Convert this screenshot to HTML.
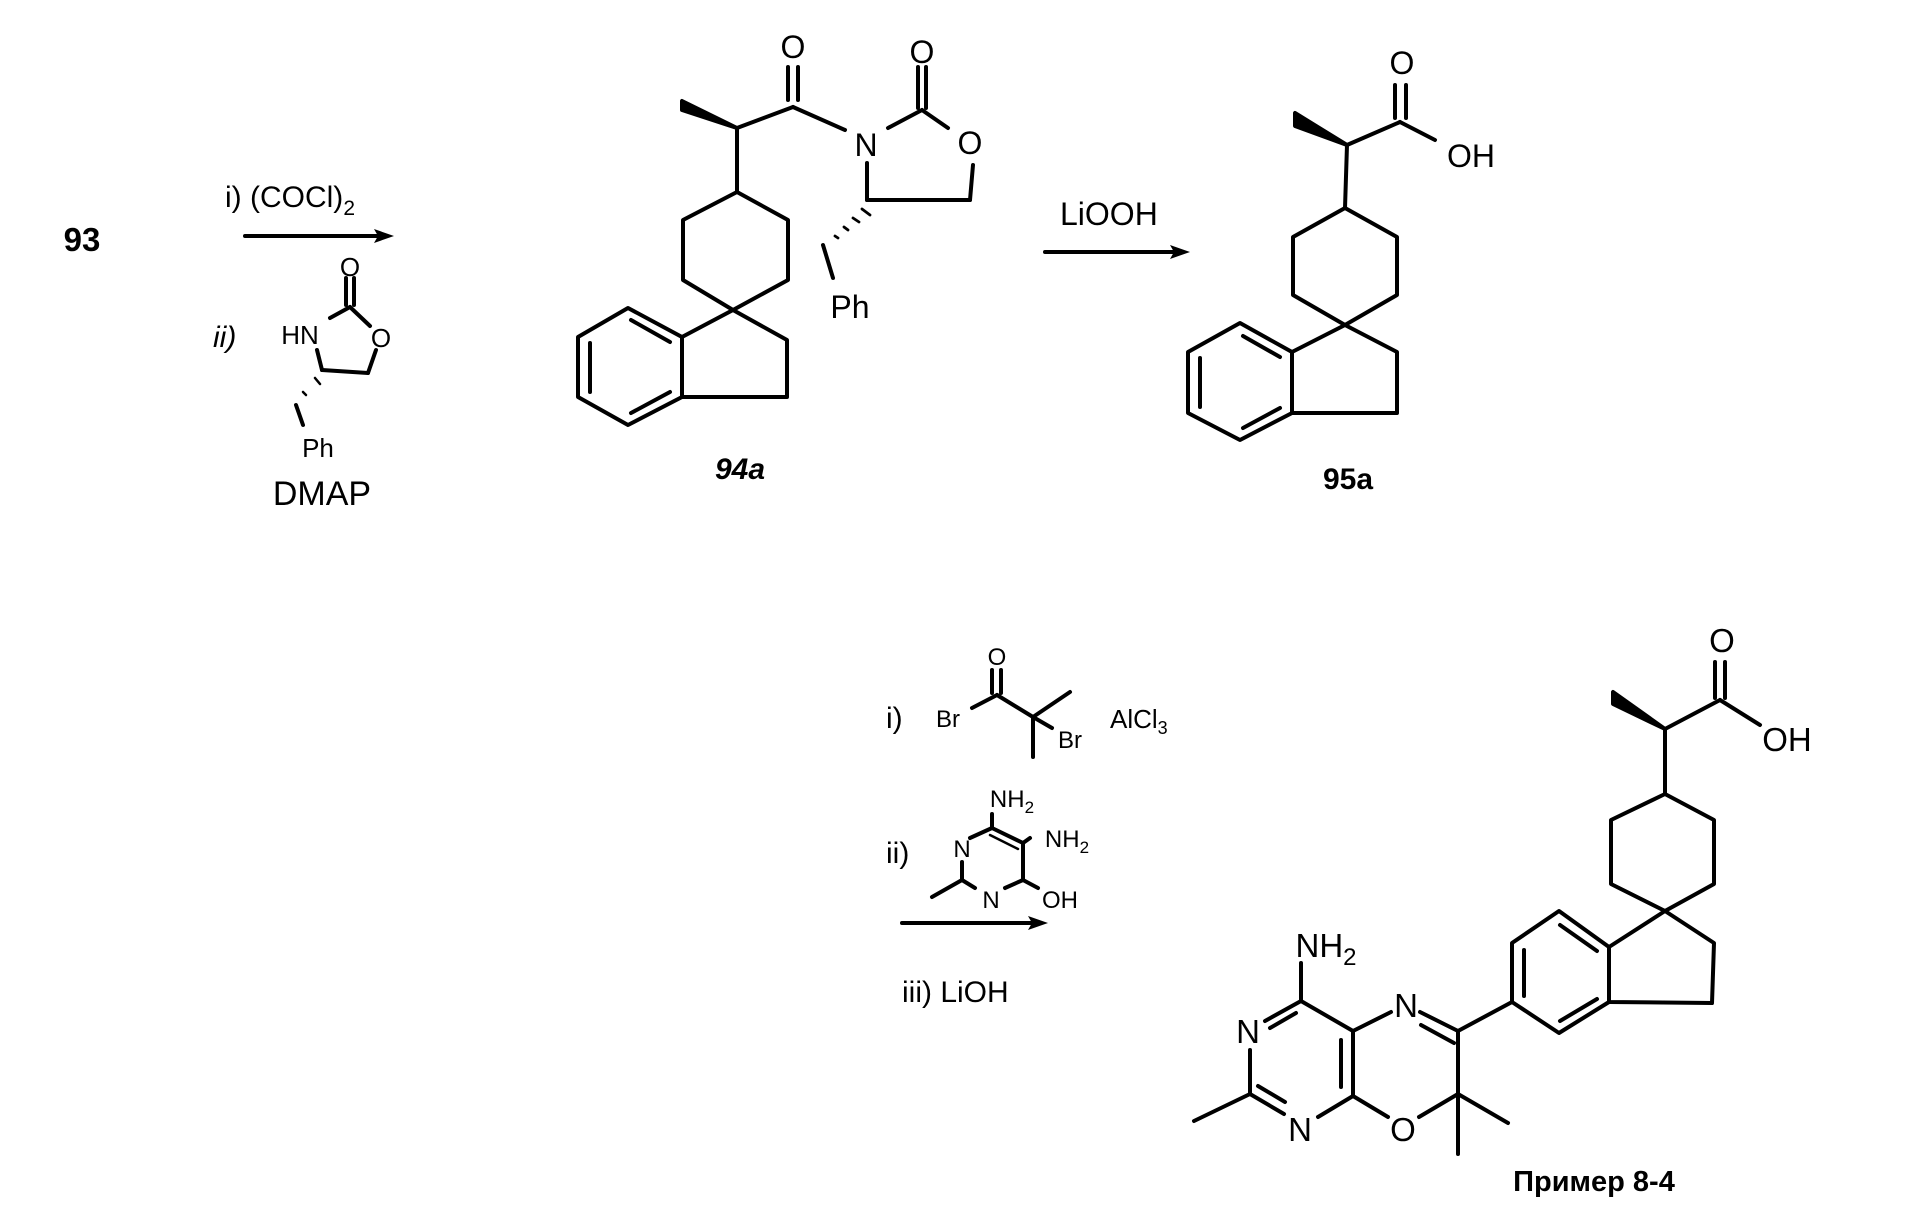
<!DOCTYPE html>
<html><head><meta charset="utf-8"><style>
html,body{margin:0;padding:0;background:#fff}
svg{display:block}
text{font-family:"Liberation Sans","Noto Sans CJK SC",sans-serif;fill:#000}
</style></head><body>
<svg width="1909" height="1212" viewBox="0 0 1909 1212" xmlns="http://www.w3.org/2000/svg">
<g stroke="#000" stroke-width="4" fill="none" stroke-linecap="round" stroke-linejoin="round">
<!-- arrows -->
<line x1="245" y1="236" x2="380" y2="236"/>
<line x1="1045" y1="252" x2="1177" y2="252"/>
<line x1="902" y1="923" x2="1035" y2="923"/>

<!-- oxazolidinone reagent -->
<line x1="317" y1="350" x2="322" y2="370"/>
<line x1="322" y1="370" x2="368" y2="373"/>
<line x1="368" y1="373" x2="376" y2="350"/>
<line x1="370" y1="326" x2="350" y2="307"/>
<line x1="350" y1="307" x2="330" y2="318"/>
<line x1="346" y1="305" x2="346" y2="278"/><line x1="354" y1="305" x2="354" y2="278"/>
<line x1="315" y1="378" x2="320" y2="384" stroke-width="2.5"/>
<line x1="303" y1="392" x2="306" y2="395" stroke-width="2.5"/>
<line x1="296" y1="405" x2="303" y2="425"/>

<!-- 94a -->
<line x1="737" y1="128" x2="793" y2="107"/>
<line x1="788" y1="100" x2="788" y2="67"/><line x1="798" y1="100" x2="798" y2="67"/>
<line x1="793" y1="107" x2="845" y2="130"/>
<line x1="888" y1="128" x2="922" y2="110"/>
<line x1="918" y1="108" x2="918" y2="67"/><line x1="926" y1="108" x2="926" y2="67"/>
<line x1="922" y1="110" x2="948" y2="128"/>
<line x1="973" y1="165" x2="970" y2="200"/>
<line x1="970" y1="200" x2="867" y2="200"/>
<line x1="867" y1="200" x2="867" y2="163"/>
<line x1="737" y1="128" x2="737" y2="192"/>
<polygon points="682,101 682,110 737,128" fill="#000"/>
<polyline points="737,192 788,220 788,280 733,310 683,280 683,220 737,192"/>
<polyline points="733,310 787,340 787,397 682,397 682,337 733,310"/>
<polyline points="682,337 682,397 628,425 578,397 578,337 628,308 682,337"/>
<line x1="631" y1="320" x2="670" y2="342"/>
<line x1="590" y1="343" x2="590" y2="392"/>
<line x1="670" y1="392" x2="631" y2="413"/>
<g stroke-width="2.8">
<line x1="862" y1="209" x2="870" y2="215"/>
<line x1="853" y1="218" x2="859" y2="222"/>
<line x1="844" y1="227" x2="848" y2="230"/>
<line x1="835" y1="236" x2="838" y2="238"/>
</g>
<line x1="823" y1="245" x2="833" y2="278"/>

<!-- 95a -->
<polygon points="1295,113 1295,126 1347,145" fill="#000"/>
<line x1="1347" y1="145" x2="1400" y2="122"/>
<line x1="1395" y1="118" x2="1395" y2="85"/>
<line x1="1406" y1="118" x2="1406" y2="85"/>
<line x1="1400" y1="122" x2="1435" y2="140"/>
<line x1="1347" y1="145" x2="1345" y2="208"/>
<polyline points="1345,208 1397,237 1397,295 1345,325 1293,295 1293,237 1345,208"/>
<polyline points="1345,325 1397,352 1397,413 1292,413 1292,352 1345,325"/>
<polyline points="1292,352 1292,413 1240,440 1188,413 1188,352 1240,323 1292,352"/>
<line x1="1243" y1="336" x2="1280" y2="357"/>
<line x1="1200" y1="358" x2="1200" y2="407"/>
<line x1="1280" y1="408" x2="1243" y2="428"/>

<!-- reagent i) bottom -->
<line x1="972" y1="708" x2="997" y2="695"/>
<line x1="992" y1="693" x2="992" y2="670"/><line x1="1001" y1="693" x2="1001" y2="670"/>
<line x1="997" y1="695" x2="1033" y2="717"/>
<line x1="1033" y1="717" x2="1070" y2="692"/>
<line x1="1033" y1="717" x2="1033" y2="757"/>
<line x1="1033" y1="717" x2="1052" y2="728"/>
<!-- pyrimidine reagent -->
<line x1="992" y1="828" x2="992" y2="814"/>
<line x1="992" y1="828" x2="1023" y2="843"/>
<line x1="990" y1="835" x2="1018" y2="849" stroke-width="2.5"/>
<line x1="1023" y1="843" x2="1030" y2="838"/>
<line x1="1023" y1="843" x2="1023" y2="880"/>
<line x1="1023" y1="880" x2="1038" y2="888"/>
<line x1="1023" y1="880" x2="1005" y2="888"/>
<line x1="962" y1="880" x2="975" y2="888"/>
<line x1="962" y1="880" x2="932" y2="897"/>
<line x1="962" y1="880" x2="962" y2="862"/>
<line x1="970" y1="838" x2="992" y2="828"/>

<!-- Example 8-4 -->
<polygon points="1613,692 1613,704 1665,729" fill="#000"/>
<line x1="1665" y1="729" x2="1720" y2="700"/>
<line x1="1715" y1="698" x2="1715" y2="662"/><line x1="1725" y1="698" x2="1725" y2="662"/>
<line x1="1720" y1="700" x2="1760" y2="725"/>
<line x1="1665" y1="729" x2="1665" y2="794"/>
<polyline points="1665,794 1714,820 1714,884 1665,911 1611,884 1611,820 1665,794"/>
<polyline points="1665,911 1714,943 1712,1003 1609,1002 1609,947 1665,911"/>
<polyline points="1609,947 1609,1002 1559,1033 1512,1002 1512,943 1559,911 1609,947"/>
<line x1="1560" y1="925" x2="1597" y2="951"/>
<line x1="1524" y1="950" x2="1524" y2="996"/>
<line x1="1597" y1="999" x2="1560" y2="1021"/>
<line x1="1512" y1="1002" x2="1458" y2="1031"/>
<line x1="1458" y1="1031" x2="1420" y2="1012"/>
<line x1="1454" y1="1043" x2="1421" y2="1025"/>
<line x1="1458" y1="1031" x2="1458" y2="1094"/>
<line x1="1458" y1="1094" x2="1419" y2="1117"/>
<line x1="1458" y1="1094" x2="1508" y2="1123"/>
<line x1="1458" y1="1094" x2="1458" y2="1154"/>
<line x1="1391" y1="1012" x2="1353" y2="1031"/>
<line x1="1353" y1="1031" x2="1353" y2="1096"/>
<line x1="1341" y1="1040" x2="1341" y2="1087"/>
<line x1="1353" y1="1096" x2="1388" y2="1117"/>
<line x1="1353" y1="1031" x2="1301" y2="1001"/>
<line x1="1301" y1="1001" x2="1301" y2="963"/>
<line x1="1301" y1="1001" x2="1265" y2="1021"/>
<line x1="1296" y1="1013" x2="1270" y2="1028"/>
<line x1="1250" y1="1050" x2="1250" y2="1094"/>
<line x1="1250" y1="1094" x2="1284" y2="1114"/>
<line x1="1258" y1="1086" x2="1285" y2="1102"/>
<line x1="1353" y1="1096" x2="1318" y2="1117"/>
<line x1="1250" y1="1094" x2="1194" y2="1121"/>
</g>
<g fill="#000">
<polygon points="394,236 374,229 378,236 374,243"/>
<polygon points="1190,252 1170,245 1174,252 1170,259"/>
<polygon points="1048,923 1028,916 1032,923 1028,930"/>
</g>

<g font-size="30">
<text x="82" y="251" font-size="33" font-weight="bold" text-anchor="middle">93</text>
<text x="225" y="207">i) (COCl)<tspan font-size="21" dy="8">2</tspan></text>
<text x="213" y="347" font-style="italic">ii)</text>
<text x="300" y="344" text-anchor="middle" font-size="26">HN</text>
<text x="350" y="276" text-anchor="middle" font-size="26">O</text>
<text x="381" y="347" text-anchor="middle" font-size="26">O</text>
<text x="318" y="457" text-anchor="middle" font-size="26">Ph</text>
<text x="322" y="505" text-anchor="middle" font-size="34">DMAP</text>

<text x="793" y="58" text-anchor="middle" font-size="32">O</text>
<text x="922" y="63" text-anchor="middle" font-size="32">O</text>
<text x="866" y="156" text-anchor="middle" font-size="32">N</text>
<text x="970" y="154" text-anchor="middle" font-size="32">O</text>
<text x="850" y="318" text-anchor="middle" font-size="32">Ph</text>
<text x="740" y="479" text-anchor="middle" font-weight="bold" font-style="italic">94a</text>

<text x="1060" y="225" font-size="32">LiOOH</text>
<text x="1402" y="74" text-anchor="middle" font-size="32">O</text>
<text x="1471" y="167" text-anchor="middle" font-size="32">OH</text>
<text x="1348" y="489" text-anchor="middle" font-weight="bold">95a</text>

<text x="886" y="728">i)</text>
<text x="948" y="727" text-anchor="middle" font-size="24">Br</text>
<text x="997" y="665" text-anchor="middle" font-size="24">O</text>
<text x="1070" y="748" text-anchor="middle" font-size="24">Br</text>
<text x="1110" y="728" font-size="26">AlCl<tspan font-size="18" dy="6">3</tspan></text>
<text x="886" y="863">ii)</text>
<text x="1012" y="807" text-anchor="middle" font-size="24">NH<tspan font-size="17" dy="6">2</tspan></text>
<text x="1067" y="847" text-anchor="middle" font-size="24">NH<tspan font-size="17" dy="6">2</tspan></text>
<text x="962" y="857" text-anchor="middle" font-size="24">N</text>
<text x="991" y="908" text-anchor="middle" font-size="24">N</text>
<text x="1060" y="908" text-anchor="middle" font-size="24">OH</text>
<text x="902" y="1002">iii) LiOH</text>

<text x="1722" y="652" text-anchor="middle" font-size="33">O</text>
<text x="1787" y="751" text-anchor="middle" font-size="33">OH</text>
<text x="1406" y="1017" text-anchor="middle" font-size="33">N</text>
<text x="1248" y="1043" text-anchor="middle" font-size="33">N</text>
<text x="1300" y="1141" text-anchor="middle" font-size="33">N</text>
<text x="1403" y="1141" text-anchor="middle" font-size="33">O</text>
<text x="1326" y="957" text-anchor="middle" font-size="33">NH<tspan font-size="24" dy="8">2</tspan></text>
<text x="1594" y="1191" text-anchor="middle" font-size="29" font-weight="bold">Пример 8-4</text>
</g>
</svg>
</body></html>
